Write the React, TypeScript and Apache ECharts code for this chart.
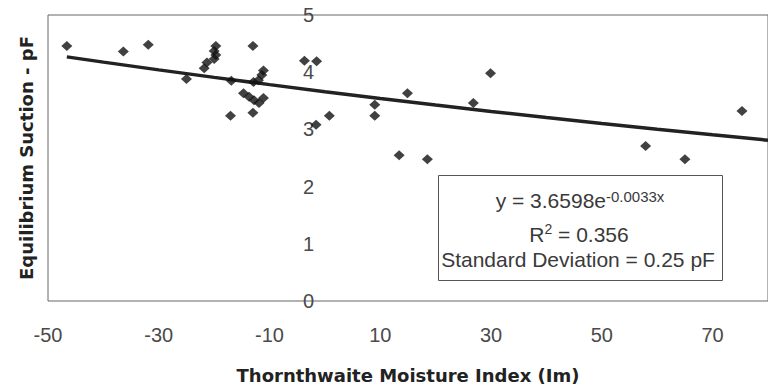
import React, { useEffect, useRef } from "react";
import * as echarts from "echarts";

// Thornthwaite Moisture Index (x) vs Equilibrium Suction pF (y)
const moistureIndex = [
  -46.6, -36.4, -31.9, -25.0, -21.8, -21.3, -20.0, -19.7, -20.0, -19.7,
  -17.05, -16.9, -13.0, -13.0, -14.7, -13.7, -12.8, -11.9, -11.1, -12.9,
  -12.0, -11.4, -11.1, -3.7, -1.5, -1.6, 0.8, 9.0, 9.0, 14.9,
  13.4, 18.5, 26.8, 29.9, 57.9, 65.0, 75.3,
];
const suction = [
  4.46, 4.36, 4.48, 3.88, 4.07, 4.17, 4.23, 4.3, 4.37, 4.46,
  3.24, 3.85, 4.46, 3.29, 3.63, 3.57, 3.51, 3.46, 3.55, 3.83,
  3.86, 3.95, 4.03, 4.2, 4.19, 3.08, 3.24, 3.43, 3.24, 3.63,
  2.55, 2.48, 3.46, 3.98, 2.71, 2.48, 3.32,
];

// Exponential trendline y = A * e^(B x), as printed on the chart
const trendA = 3.6598;
const trendB = -0.0033;
const trendX = [-46.6, -40, -30, -20, -10, 0, 10, 20, 30, 40, 50, 60, 70, 80];

const xTickLabels = [-50, -30, -10, 10, 30, 50, 70];
const yTickLabels = [0, 1, 2, 3, 4, 5];

const equationText = ["y = 3.6598e", "-0.0033x"];
const r2Text = ["R", "2", " = 0.356"];
const sdText = "Standard Deviation = 0.25 pF";

export default function App() {
  const ref = useRef<HTMLDivElement>(null);

  useEffect(() => {
    if (!ref.current) return;
    const chart = echarts.init(ref.current, null, { renderer: "svg" });
    const scatterData = moistureIndex.map((x, i) => [x, suction[i]]);
    const trendData = trendX.map((x) => [x, trendA * Math.exp(trendB * x)]);
    const tickFont = {
      fontFamily: "Liberation Sans, Arial, sans-serif",
      fontSize: 20,
      color: "#4a4a4a",
    };
    const titleFont = {
      fontFamily: "DejaVu Sans, sans-serif",
      fontWeight: "bold" as const,
      fontSize: 18,
      color: "#222",
    };
    const boxFont = "Liberation Sans, Arial, sans-serif";

    chart.setOption({
      animation: false,
      backgroundColor: "#fff",
      grid: {
        left: 48,
        top: 15,
        bottom: 81,
        right: -10,
        show: true,
        borderColor: "#666",
        borderWidth: 1,
        backgroundColor: "transparent",
      },
      xAxis: {
        type: "value",
        min: -50,
        max: 80,
        name: "Thornthwaite Moisture Index (Im)",
        nameLocation: "middle",
        nameGap: 65,
        nameTextStyle: titleFont,
        axisLine: { show: false },
        axisTick: { show: false },
        splitLine: { show: false },
        axisLabel: {
          ...tickFont,
          margin: 24,
          customValues: xTickLabels,
        },
      },
      yAxis: {
        type: "value",
        min: 0,
        max: 5,
        interval: 1,
        name: "Equilibrium Suction - pF",
        nameLocation: "middle",
        nameGap: 13,
        nameTextStyle: titleFont,
        axisLine: { show: false },
        axisTick: { show: false },
        splitLine: { show: false },
        axisLabel: {
          ...tickFont,
          margin: -266,
          customValues: yTickLabels,
        },
      },
      series: [
        {
          type: "line",
          data: trendData,
          showSymbol: false,
          symbol: "none",
          lineStyle: { color: "#222", width: 3.5 },
          silent: true,
          z: 2,
        },
        {
          type: "scatter",
          data: scatterData,
          symbol: "diamond",
          symbolSize: [11, 10],
          itemStyle: { color: "#111" },
          z: 3,
        },
      ],
      graphic: [
        {
          type: "rect",
          shape: { x: 438.5, y: 175.5, width: 284, height: 105 },
          style: { fill: "#fff", stroke: "#555", lineWidth: 1 },
          z: 10,
        },
        {
          type: "text",
          x: 580,
          y: 200.5,
          z: 11,
          style: {
            text: `{m|${equationText[0]}}{s|${equationText[1]}}`,
            align: "center",
            verticalAlign: "middle",
            rich: {
              m: { fontFamily: boxFont, fontSize: 21, lineHeight: 24, fill: "#3a3a3a", verticalAlign: "middle" },
              s: { fontFamily: boxFont, fontSize: 15, lineHeight: 4, fill: "#3a3a3a", verticalAlign: "top" },
            },
          },
        },
        {
          type: "text",
          x: 579,
          y: 234,
          z: 11,
          style: {
            text: `{m|${r2Text[0]}}{s|${r2Text[1]}}{m|${r2Text[2]}}`,
            align: "center",
            verticalAlign: "middle",
            rich: {
              m: { fontFamily: boxFont, fontSize: 21, lineHeight: 24, fill: "#3a3a3a", verticalAlign: "middle" },
              s: { fontFamily: boxFont, fontSize: 14, lineHeight: 8, fill: "#3a3a3a", verticalAlign: "top" },
            },
          },
        },
        {
          type: "text",
          x: 578,
          y: 259.5,
          z: 11,
          style: {
            text: sdText,
            align: "center",
            verticalAlign: "middle",
            fontFamily: boxFont,
            fontSize: 21,
            fill: "#3a3a3a",
          },
        },
      ],
    });

    return () => chart.dispose();
  }, []);

  return (
    <div
      ref={ref}
      style={{ position: "fixed", left: 0, top: 0, width: 768, height: 389 }}
    />
  );
}
